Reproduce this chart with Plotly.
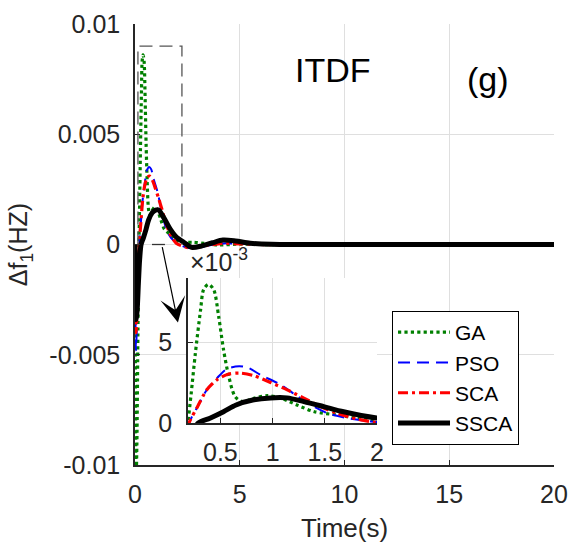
import plotly.graph_objects as go

# ---------------- data (values in units of 1e-3 Hz) ----------------
t_ga = [0, 0.02, 0.05, 0.09, 0.14, 0.19, 0.22, 0.26, 0.31, 0.34, 0.385, 0.435, 0.484, 0.53,
        0.58, 0.64, 0.71, 0.82, 0.95, 1.08, 1.24, 1.4, 1.62, 1.81, 2.0, 2.3, 2.8, 3.3, 4.0,
        5.0, 6.0, 8.0, 12.0, 20.0]
ga = [0, -6.0, -10.8, -9.0, -4.0, 0, 1.8, 4.3, 7.0, 8.3, 8.6, 8.3, 6.6, 4.56,
      2.9, 1.65, 1.33, 1.54, 1.7, 1.54, 1.1, 0.7, 0.5, 0.3, 0.15, 0.1, 0.1, 0.05, -0.02,
      0.02, 0, 0, 0, 0]

t_pso = [0, 0.02, 0.045, 0.08, 0.13, 0.2, 0.28, 0.37, 0.47, 0.56, 0.68, 0.77, 0.88, 1.08,
         1.24, 1.4, 1.53, 1.72, 1.94, 2.1, 2.5, 3.0, 3.5, 4.2, 5.0, 6.0, 8.0, 12.0, 20.0]
pso = [0, -3.0, -4.8, -4.0, -2.0, 0, 1.0, 2.06, 2.8, 3.35, 3.52, 3.42, 3.0, 2.37,
       1.65, 1.0, 0.6, 0.3, 0.1, 0.0, -0.15, -0.15, -0.05, 0.05, 0.03, 0, 0, 0, 0]

t_sca = [0, 0.02, 0.05, 0.09, 0.14, 0.2, 0.28, 0.37, 0.47, 0.58, 0.69, 0.82, 0.98, 1.14,
         1.3, 1.46, 1.62, 1.81, 1.97, 2.2, 2.6, 3.0, 3.5, 4.2, 5.0, 6.0, 8.0, 12.0, 20.0]
sca = [0, -2.5, -4.0, -3.2, -1.6, 0, 1.0, 2.06, 2.7, 3.04, 3.1, 2.94, 2.52, 2.06,
       1.54, 1.02, 0.6, 0.25, 0.06, -0.05, -0.15, -0.12, -0.03, 0.05, 0.03, 0, 0, 0, 0]

t_ssca = [0, 0.02, 0.05, 0.1, 0.16, 0.22, 0.29, 0.4, 0.53, 0.65, 0.82, 0.98, 1.14, 1.3,
          1.49, 1.68, 2.0, 2.3, 2.7, 3.2, 3.7, 4.2, 4.8, 5.5, 6.5, 8.0, 12.0, 20.0]
ssca = [0, -2.4, -3.4, -3.0, -1.8, -0.7, 0, 0.3, 0.7, 1.12, 1.44, 1.56, 1.56, 1.33,
        1.02, 0.7, 0.31, 0.12, -0.13, -0.06, 0.08, 0.2, 0.16, 0.06, 0.01, 0, 0, 0]

series_names = ["GA", "PSO", "SCA", "SSCA"]

main_xticks = [0, 5, 10, 15, 20]
main_yticks = [-0.01, -0.005, 0, 0.005, 0.01]
main_yticktext = ["-0.01", "-0.005", "0", "0.005", "0.01"]
inset_xticks = [0.5, 1, 1.5, 2]
inset_xticktext = ["0.5", "1", "1.5", "2"]
inset_yticks = [0, 0.005]
inset_yticktext = ["0", "5"]

# ---------------- styling ----------------
FONT = "Arial, Liberation Sans, Helvetica, sans-serif"
TXT = "#262626"
GRID = "#dfdfdf"

styles = [
    dict(color="#008000", dash="dot", width=3.2),
    dict(color="#0000ff", dash="12px,7px", width=2),
    dict(color="#ff0000", dash="10px,4px,3px,4px", width=3.2),
    dict(color="#000000", dash="solid", width=5),
]
data_t = [t_ga, t_pso, t_sca, t_ssca]
data_v = [ga, pso, sca, ssca]

fig = go.Figure()
for ax_x, ax_y, show in [("x", "y", True), ("x2", "y2", False)]:
    for name, t, v, st in zip(series_names, data_t, data_v, styles):
        fig.add_trace(go.Scatter(
            x=t, y=[val * 1e-3 for val in v], mode="lines", name=name,
            line=dict(color=st["color"], dash=st["dash"], width=st["width"],
                      shape="spline", smoothing=0.8),
            xaxis=ax_x, yaxis=ax_y, showlegend=show, hoverinfo="skip"))

axis_common = dict(showline=True, linecolor=TXT, linewidth=1.5, ticks="inside",
                   ticklen=5, tickcolor=TXT, tickwidth=1, showgrid=True,
                   gridcolor=GRID, gridwidth=1, zeroline=False, automargin=False,
                   tickfont=dict(family=FONT, size=25, color=TXT))

fig.update_layout(
    template="none",
    width=571, height=550,
    margin=dict(l=135, r=17, t=24, b=85, autoexpand=False),
    paper_bgcolor="white", plot_bgcolor="white",
    font=dict(family=FONT, color=TXT),
    xaxis=dict(domain=[0, 1], range=[0, 20], tickvals=main_xticks, anchor="y",
               ticklabelstandoff=6, **axis_common),
    yaxis=dict(domain=[0, 1], range=[-0.01, 0.01], tickvals=main_yticks,
               ticktext=main_yticktext, anchor="x", ticklabelstandoff=8, **axis_common),
    xaxis2=dict(domain=[0.1265, 0.5776], range=[0.19, 2.0], tickvals=inset_xticks,
                ticktext=inset_xticktext, anchor="y2", ticklabelstandoff=6, **axis_common),
    yaxis2=dict(domain=[0.0952, 0.424], range=[0, 0.009], tickvals=inset_yticks,
                ticktext=inset_yticktext, anchor="x2", ticklabelstandoff=9, **axis_common),
    legend=dict(x=0.6134, y=0.3492, xanchor="left", yanchor="top",
                bgcolor="white", bordercolor="#000000", borderwidth=1,
                itemwidth=52,
                font=dict(family=FONT, size=21, color="#000000")),
    showlegend=True,
)

# zoom-region marker (dashed, open at the bottom) and short solid base segment
fig.add_shape(type="path", xref="x", yref="y",
              path="M 0.14,0 L 0.14,0.009 L 2.24,0.009 L 2.24,0",
              line=dict(color="#555555", width=1.3, dash="13px,7px"), layer="above")
fig.add_shape(type="line", xref="x", yref="y", x0=0.81, x1=1.43, y0=0, y1=0,
              line=dict(color="#333333", width=1.3), layer="above")

def note(text, x, y, size, color, **kw):
    fig.add_annotation(text=text, xref="paper", yref="paper", x=x, y=y,
                       xanchor=kw.pop("xanchor", "center"), yanchor=kw.pop("yanchor", "middle"),
                       showarrow=False, font=dict(family=FONT, size=size, color=color), **kw)

note("ITDF", 0.4726, 0.8957, 34, "#000000")
note("(g)", 0.843, 0.875, 34, "#000000")
note("×10<sup>-3</sup>", 0.1265, 0.424, 25, TXT, xanchor="left", yanchor="bottom")
note("Δf<sub>1</sub>(HZ)", -0.275, 0.5, 25, TXT, textangle=-90)
note("Time(s)", 0.499, -0.143, 26, TXT)

fig.add_annotation(text="", xref="x", yref="y", x=2.05, y=-0.00354,
                   ax=-16, ay=-77, showarrow=True, arrowhead=3, arrowsize=3.5,
                   arrowwidth=1.2, arrowcolor="#000000")

fig.write_html("out.html", post_script="document.body.style.margin='0px';",
               config={"displayModeBar": False})
